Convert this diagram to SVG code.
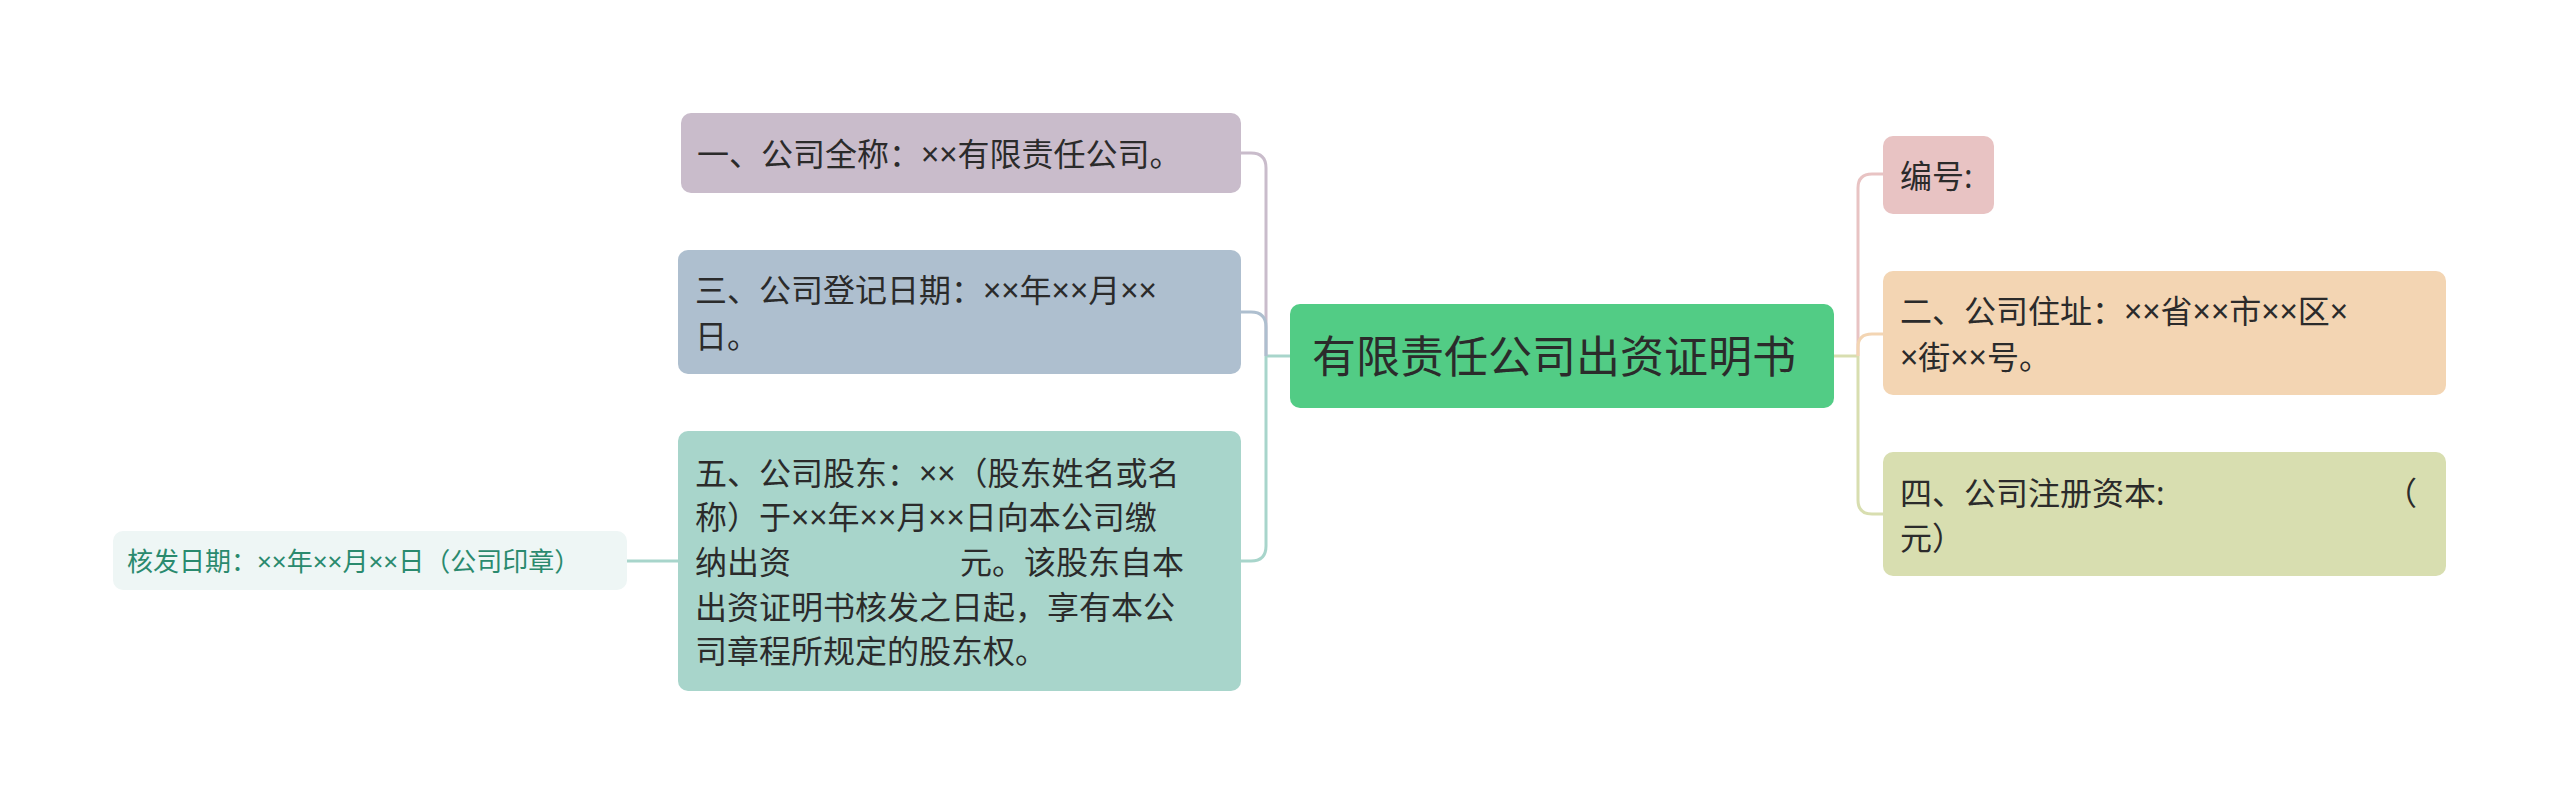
<svg xmlns="http://www.w3.org/2000/svg" width="2560" height="805" viewBox="0 0 2560 805">
<style>
text{font-family:"Noto Sans","Noto Sans CJK SC",sans-serif;fill:#2b2b2b;font-size:32px;dominant-baseline:central}
.c{fill:none;stroke-width:3}
</style>
<rect width="2560" height="805" fill="#fff"/>
<g id="connectors">
<path class="c" stroke="#a8d5cb" d="M1290 356 H1266"/>
<path class="c" stroke="#c9bccb" d="M1266 356 V168 Q1266 153 1251 153 H1241"/>
<path class="c" stroke="#aebfcf" d="M1266 356 V327 Q1266 312 1251 312 H1241"/>
<path class="c" stroke="#a8d5cb" d="M1266 356 V546 Q1266 561 1251 561 H1241"/>
<path class="c" stroke="#d8deb0" d="M1834 356 H1858"/>
<path class="c" stroke="#e8c3c3" d="M1858 356 V188 Q1858 174 1872 174 H1883"/>
<path class="c" stroke="#f3d5b3" d="M1858 356 V347 Q1858 334 1872 334 H1883"/>
<path class="c" stroke="#d8deb0" d="M1858 356 V500 Q1858 514 1872 514 H1883"/>
<path class="c" stroke="#a8d5cb" d="M678 561 H627"/>
</g>
<g id="center"><rect x="1290" y="304" width="544" height="104" rx="10" fill="#52cc85"/><text x="1312" y="356" style="font-size:44px">有限责任公司出资证明书</text></g>
<g id="n1"><rect x="681" y="113" width="560" height="80" rx="10" fill="#c9bccb"/><text x="697" y="153">一、公司全称：××有限责任公司。</text></g>
<g id="n3"><rect x="678" y="250" width="563" height="124" rx="10" fill="#aebfcf"/><text x="695" y="289">三、公司登记日期：××年××月××</text><text x="695" y="335">日。</text></g>
<g id="n5"><rect x="678" y="431" width="563" height="260" rx="10" fill="#a8d5cb"/>
<text x="695" y="472">五、公司股东：××（股东姓名或名</text>
<text x="695" y="516">称）于××年××月××日向本公司缴</text>
<text x="695" y="561">纳出资<tspan x="960">元。该股东自本</tspan></text>
<text x="695" y="606">出资证明书核发之日起，享有本公</text>
<text x="695" y="650">司章程所规定的股东权。</text></g>
<g id="n0"><rect x="1883" y="136" width="111" height="78" rx="10" fill="#e8c3c3"/><text x="1900" y="175">编号:</text></g>
<g id="n2"><rect x="1883" y="271" width="563" height="124" rx="10" fill="#f3d5b3"/><text x="1900" y="310">二、公司住址：××省××市××区×</text><text x="1900" y="356">×街××号。</text></g>
<g id="n4"><rect x="1883" y="452" width="563" height="124" rx="10" fill="#d8deb0"/><text x="1900" y="492">四、公司注册资本:<tspan x="2385">（</tspan></text><text x="1900" y="537">元）</text></g>
<g id="leaf"><rect x="113" y="531" width="514" height="59" rx="10" fill="#eef6f5"/><text x="127" y="561" style="font-size:26px;fill:#2a8a6e">核发日期：××年××月××日（公司印章）</text></g>
</svg>
